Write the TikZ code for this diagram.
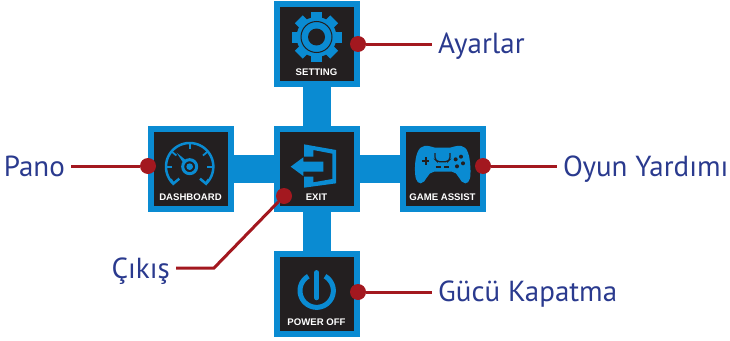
\documentclass[tikz,border=0pt]{standalone}
\usepackage{fontspec}
\setmainfont{PT Sans}
\newfontfamily\tilefont{Liberation Sans}[Scale=1]
\definecolor{tileblue}{HTML}{0A8BD2}
\definecolor{tiledark}{HTML}{231F20}
\definecolor{redline}{HTML}{A3181F}
\definecolor{navy}{HTML}{2A3A8E}
\tikzset{
  every picture/.style={x=1pt,y=-1pt},
  tile/.style={draw=tileblue,line width=6pt,fill=tiledark,minimum size=80pt,inner sep=0pt,outer sep=0pt},
  tiletext/.style={text=white,font=\tilefont\bfseries\fontsize{9.6}{9.6}\selectfont,inner sep=0pt,anchor=base},
  dot/.style={circle,fill=redline,minimum size=16pt,inner sep=0pt},
  leader/.style={draw=redline,line width=3pt},
  callout/.style={text=navy,font=\fontsize{29}{29}\selectfont,inner ysep=0pt,inner xsep=6pt},
  bar/.style={fill=tileblue},
  icon/.style={fill=tileblue},
  iconline/.style={draw=tileblue},
}
\begin{document}
\begin{tikzpicture}
\useasboundingbox (0,0) rectangle (730,340);
% connecting bars
\fill[bar] (303,80) rectangle (331,257);
\fill[bar] (227,155) rectangle (406,183);
% tiles
\node[tile] (setting) at (317,44) {};
\node[tile] (dash) at (191,169) {};
\node[tile] (exit) at (317,169) {};
\node[tile] (game) at (443,169) {};
\node[tile] (power) at (317,294) {};
% tile texts
\node[tiletext] (tsetting) at (316.5,75.5) {SETTING};
\node[tiletext] (tdash) at (190.5,200.5) {DASHBOARD};
\node[tiletext] (texit) at (316.5,200.5) {EXIT};
\node[tiletext] (tgame) at (442.5,200.5) {GAME ASSIST};
\node[tiletext] (tpower) at (316.5,325.5) {POWER OFF};
% gear
\foreach \a in {0,45,...,315}
  \fill[icon,shift={(316.5,37)},rotate=\a] (-5.5,-25) rectangle (5.5,-17);
\fill[icon] (316.5,37) circle (20);
\draw[draw=tiledark,line width=1pt] (316.5,37) circle (15.5);
\fill[tiledark] (316.5,37) circle (8.5);
% dashboard
\begin{scope}[shift={(140,120)},scale=1/3]
\draw[iconline,line width=2.5pt] plot[domain=135:405,samples=50] ({149+71*cos(\x)},{140+71*sin(\x)});
\draw[iconline,line width=2.5pt] (92,178)--(100,191)--(118,176);
\draw[iconline,line width=2.5pt] (206,178)--(198,191)--(180,176);
\foreach \a in {-180,-140,-90,-40,0}
  \draw[iconline,line width=1.8pt] ({149+70*cos(\a)},{140+70*sin(\a)})--({149+52*cos(\a)},{140+52*sin(\a)});
\draw[iconline,line width=3pt] (149,140) circle (21);
\fill[icon] (149,140) circle (10);
\fill[icon] (110,98)--(138,121)--(130,129)--cycle;
\end{scope}
% exit
\begin{scope}[shift={(265,120)},scale=1/3]
\fill[icon] (117,73)--(213,90)--(213,190)--(117,203)--(117,170)--(145,170)--(145,187)--(202,177)--(202,101)--(145,90)--(145,110)--(117,110)--cycle;
\fill[icon] (77,140)--(115,112)--(115,125)--(175,125)--(175,155)--(115,155)--(115,168)--cycle;
\end{scope}
% game pad
\begin{scope}[shift={(390,120)},scale=1/3]
\fill[icon] (103,78) .. controls (85,80) and (76,105) .. (75,140) .. controls (74,170) and (78,190) .. (92,190) .. controls (108,190) and (112,155) .. (132,155) -- (186,155) .. controls (206,155) and (208,190) .. (226,190) .. controls (240,190) and (243,170) .. (241,140) .. controls (239,105) and (232,80) .. (214,78) .. controls (195,76) and (190,82) .. (180,83) -- (135,83) .. controls (125,82) and (120,76) .. (103,78) -- cycle;
\draw[draw=tiledark,line width=1.2pt,rounded corners=2pt] (135,99) -- (135,118) -- (142,125) -- (173,125) -- (180,118) -- (180,99);
\draw[draw=tiledark,line width=1.4pt] (137,141) -- (152,141) (163,141) -- (178,141);
\draw[draw=tiledark,line width=2pt] (96,123) -- (118,123) (107,112) -- (107,134);
\foreach \p in {(197,118),(213,110),(219,130),(201,139)}
  \fill[tiledark] \p circle (6);
\end{scope}
% power
\begin{scope}[shift={(265,240)},scale=1/3]
\draw[iconline,line width=5pt,line cap=butt] plot[domain=-60:240,samples=60] ({155+50*cos(\x)},{152+50*sin(\x)});
\draw[iconline,line width=4.5pt,line cap=round] (155,97) -- (155,174);
\end{scope}
% dots
\node[dot] (dsetting) at (358,44) {};
\node[dot] (ddash) at (148,166) {};
\node[dot] (dexit) at (284,196) {};
\node[dot] (dgame) at (483,166) {};
\node[dot] (dpower) at (358,292) {};
% labels
\node[callout,anchor=base west] (lsetting) at (432,53) {Ayarlar};
\node[callout,anchor=base east] (ldash) at (71,176) {Pano};
\node[callout,anchor=base west] (lgame) at (557,176) {Oyun Yardımı};
\node[callout,anchor=base west] (lpower) at (432,301) {Gücü Kapatma};
\node[callout,anchor=base east] (lexit) at (176,278) {Çıkış};
\coordinate (bend) at (214,268);
% connectors
\draw[leader] (dsetting) -- (dsetting -| lsetting.west);
\draw[leader] (ddash) -- (ddash -| ldash.east);
\draw[leader] (dgame) -- (dgame -| lgame.west);
\draw[leader] (dpower) -- (dpower -| lpower.west);
\draw[leader] (dexit) -- (bend) -- (bend -| lexit.east);
\end{tikzpicture}
\end{document}
